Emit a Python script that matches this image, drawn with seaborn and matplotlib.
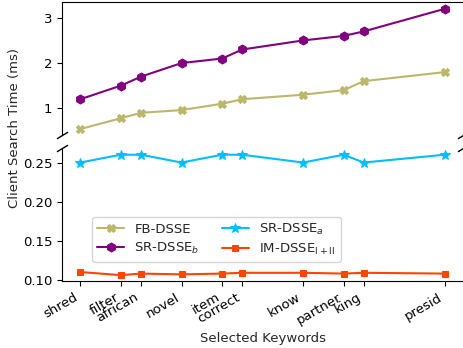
import matplotlib
matplotlib.use("Agg")
import matplotlib.pyplot as plt
import seaborn as sns

sns.set_style("ticks")
plt.rcParams['font.family'] = ['DejaVu Sans']
plt.rcParams['font.size'] = 9.5

## keywords and where they sit on the x axis
keywords = ['shred', 'filter', 'african', 'novel', 'item', 'correct', 'know', 'partner', 'king', 'presid']
positions = [0, 2, 3, 5, 7, 8, 11, 13, 14, 18]

## client search time (ms)
fb_dsse = [0.54, 0.78, 0.90, 0.96, 1.10, 1.20, 1.30, 1.40, 1.60, 1.80]
sr_dsse_b = [1.20, 1.50, 1.70, 2.00, 2.10, 2.30, 2.50, 2.60, 2.70, 3.20]
sr_dsse_a = [0.25, 0.26, 0.26, 0.25, 0.26, 0.26, 0.25, 0.26, 0.25, 0.26]
im_dsse = [0.110, 0.106, 0.108, 0.107, 0.108, 0.109, 0.109, 0.108, 0.109, 0.108]

fig = plt.figure(figsize=(4.63, 3.48), dpi=100)
ax_top = fig.add_axes([0.134, 0.6135, 0.866, 0.382])
ax_bot = fig.add_axes([0.134, 0.1925, 0.866, 0.382])

def draw(ax, vals, color, marker, ms, label):
    sns.lineplot(x=positions, y=vals, ax=ax, color=color, marker=marker,
                 markersize=ms, markeredgecolor=color, linewidth=1.5, label=label)

draw(ax_top, fb_dsse, '#bdb76b', 'X', 6, 'FB-DSSE')
draw(ax_top, sr_dsse_b, '#800080', 'h', 6.5, 'SR-DSSE$_b$')
draw(ax_bot, sr_dsse_a, '#00bfff', '*', 7.5, 'SR-DSSE$_a$')
draw(ax_bot, im_dsse, '#ff4500', 's', 5, r'IM-DSSE$_{\mathrm{I+II}}$')

for ax in (ax_top, ax_bot):
    ax.set_xlim(-0.9, 18.9)
    ax.spines['right'].set_visible(False)
    ax.spines['left'].set_color('k')
    ax.tick_params(colors='k', labelsize=9.5)

ax_top.set_ylim(0.42, 3.36)
ax_top.set_yticks([1, 2, 3])
ax_top.spines['bottom'].set_visible(False)
ax_top.spines['top'].set_color('k')
ax_top.tick_params(axis='x', bottom=False, labelbottom=False)
ax_top.get_legend().remove()

ax_bot.set_ylim(0.0985, 0.2685)
ax_bot.set_yticks([0.10, 0.15, 0.20, 0.25])
ax_bot.spines['top'].set_visible(False)
ax_bot.spines['bottom'].set_color('k')
ax_bot.set_xticks(positions)
ax_bot.set_xticklabels(keywords, rotation=30, ha='right')
ax_bot.set_xlabel('Selected Keywords')

# break marks
kw = dict(marker=[(-1, -0.6), (1, 0.6)], markersize=8, linestyle='none',
          color='k', mec='k', mew=1, clip_on=False)
ax_top.plot([0, 1], [0, 0], transform=ax_top.transAxes, **kw)
ax_bot.plot([0, 1], [1, 1], transform=ax_bot.transAxes, **kw)

h1, l1 = ax_top.get_legend_handles_labels()
h2, l2 = ax_bot.get_legend_handles_labels()
ax_bot.legend(h1 + h2, l1 + l2, ncol=2, loc='lower left',
              bbox_to_anchor=(0.075, 0.143), fontsize=9.5,
              columnspacing=1.7, handlelength=2.0, labelspacing=0.35,
              borderaxespad=0)

fig.text(0.032, 1 - 128 / 348, 'Client Search Time (ms)', rotation=90,
         va='center', ha='center', fontsize=9.5)

fig.savefig('out.png', dpi=100)
